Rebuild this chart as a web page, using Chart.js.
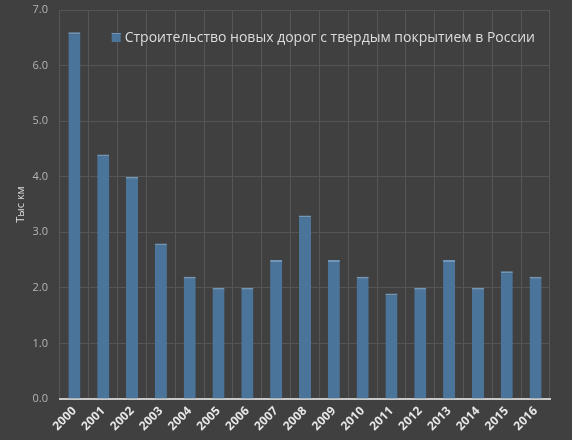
<!DOCTYPE html>
<html>
<head>
<meta charset="utf-8">
<script src="https://cdn.jsdelivr.net/npm/chart.js@4/dist/chart.umd.min.js"></script>
<style>
  html, body { margin: 0; padding: 0; background: #404040; }
  #wrap { width: 572px; height: 440px; }
</style>
</head>
<body>
<div id="wrap"><canvas id="myChart" width="572" height="440"></canvas></div>
<script>
// данные
let years = ["2000","2001","2002","2003","2004","2005","2006","2007","2008","2009","2010","2011","2012","2013","2014","2015","2016"];
let roads = [6.6, 4.4, 4.0, 2.8, 2.2, 2.0, 2.0, 2.5, 3.3, 2.5, 2.2, 1.9, 2.0, 2.5, 2.0, 2.3, 2.2];
let seriesName = "Строительство новых дорог с твердым покрытием в России";
let yTitle = "Тыс км";

// легенда внутри области графика, справа сверху
let insideLegend = {
    id: 'insideLegend',
    afterDatasetsDraw: (chart) => {
        let c = chart.ctx;
        let area = chart.chartArea;
        let ds = chart.data.datasets[0];
        c.save();
        c.font = '14px "Open Sans"';
        let w = c.measureText(ds.label).width;
        let x = area.right - 15 - w;
        let y = area.top + 28;
        c.fillStyle = ds.backgroundColor;
        c.fillRect(x - 13, y - 5, 9, 9);
        c.fillStyle = ds.borderColor;
        c.fillRect(x - 13, y - 5, 9, 1);
        c.fillStyle = '#dcdcdc';
        c.textBaseline = 'middle';
        c.fillText(ds.label, x, y);
        c.restore();
    }
}

let init = () => {
    var ctx = document.getElementById('myChart').getContext('2d');
    var chart = new Chart(ctx, {
        type: 'bar',
        data: {
            labels: years,
            datasets: [{
                label: seriesName,
                data: roads,
                backgroundColor: '#4a7499',
                borderColor: '#7197b8',
                borderWidth: { top: 2, left: 0, right: 0, bottom: 0 },
                borderSkipped: 'bottom',
                barPercentage: 0.42,
                categoryPercentage: 1.0
            }]
        },
        plugins: [insideLegend],
        options: {
            responsive: false,
            animation: false,
            layout: { padding: { top: 10, right: 22, left: 0, bottom: 0 } },
            plugins: {
                legend: { display: false },
                tooltip: { enabled: false }
            },
            scales: {
                x: {
                    grid: { color: '#555555', drawTicks: false, offset: true },
                    border: { color: '#c8c8c8', width: 2 },
                    ticks: {
                        color: '#e6e6e6',
                        font: { family: 'Open Sans', size: 12, weight: 'bold' },
                        minRotation: 45,
                        maxRotation: 45,
                        padding: 5
                    },
                    afterFit: (s) => { s.height = 41; s.paddingTop = 0; s.paddingLeft = 0; }
                },
                y: {
                    min: 0,
                    max: 7,
                    grid: { color: '#555555', drawTicks: false },
                    border: { display: false },
                    ticks: {
                        stepSize: 1,
                        color: '#b4b4b4',
                        font: { family: 'Open Sans', size: 11 },
                        padding: 12,
                        callback: (v) => v.toFixed(1)
                    },
                    title: {
                        display: true,
                        text: yTitle,
                        color: '#dcdcdc',
                        font: { family: 'Open Sans', size: 11 },
                        padding: { top: 14, bottom: 0 }
                    },
                    afterFit: (s) => { s.width = 60; s.paddingTop = 0; s.paddingBottom = 0; }
                }
            }
        }
    });
}

init();
</script>
</body>
</html>
